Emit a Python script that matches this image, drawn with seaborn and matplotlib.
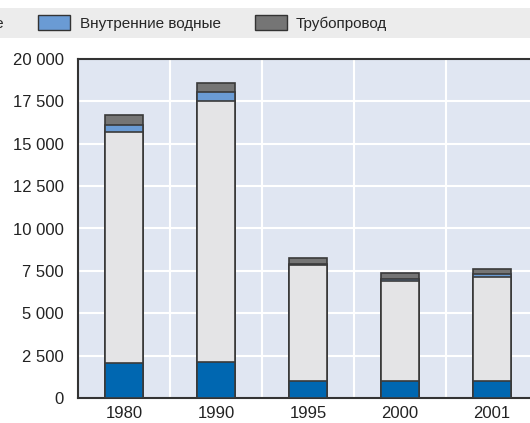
import numpy as np
import pandas as pd
import matplotlib
matplotlib.use("Agg")
import matplotlib.pyplot as plt
from matplotlib.patches import Patch, Rectangle
import seaborn as sns

years = ["1980", "1990", "1995", "2000", "2001"]
road = [2050, 2140, 1000, 1000, 1000]
rail = [13620, 15390, 6820, 5900, 6150]
inland = [430, 530, 70, 100, 150]
pipeline = [600, 530, 380, 350, 330]

series_names = ["Автомобильные", "Железнодорожные", "Внутренние водные", "Трубопровод"]
series_colors = ["#0067b1", "#e4e4e6", "#6a9bd4", "#757575"]
y_ticks = [0, 2500, 5000, 7500, 10000, 12500, 15000, 17500, 20000]
y_tick_labels = ["0", "2 500", "5 000", "7 500", "10 000", "12 500", "15 000", "17 500", "20 000"]

sns.set_theme(style="white")
plt.rcParams["font.family"] = ["Liberation Sans", "DejaVu Sans"]

W, H = 530, 423
fig = plt.figure(figsize=(W / 100, H / 100), dpi=100)
ax = fig.add_axes([78 / W, (H - 398) / H, 460 / W, 339 / H])
ax.set_facecolor("#e0e6f2")

layers = [road, rail, inland, pipeline]
cum = np.cumsum(np.array(layers, dtype=float), axis=0)
edge = "#3a3a3a"
for i in range(len(layers) - 1, -1, -1):
    df = pd.DataFrame({"year": years, "value": cum[i]})
    sns.barplot(data=df, x="year", y="value", color=series_colors[i], saturation=1,
                width=0.42, edgecolor=edge, linewidth=1.2, ax=ax, zorder=3)

ax.set_xlim(-0.5, 4.5)
ax.set_ylim(0, 20000)
ax.set_xlabel("")
ax.set_ylabel("")
ax.set_yticks(y_ticks)
ax.set_yticklabels(y_tick_labels)
ax.set_xticks(range(len(years)))
ax.set_xticklabels(years)
ax.set_xticks(np.arange(0.5, len(years) - 0.5, 1.0), minor=True)

ax.tick_params(axis="y", direction="in", length=6, width=1.2, color="#333333",
               labelsize=12, pad=10, labelcolor="#222222")
ax.tick_params(axis="x", which="major", length=0, labelsize=12, pad=6, labelcolor="#222222")
ax.tick_params(axis="x", which="minor", direction="in", length=5, width=1.2, color="#333333")

ax.grid(False)
for y in y_ticks[1:-1]:
    ax.axhline(y, color="white", lw=1.5, zorder=1)
for x in np.arange(0.5, len(years) - 0.5, 1.0):
    ax.axvline(x, color="white", lw=1.5, zorder=1)

for s in ["left", "bottom", "top"]:
    ax.spines[s].set_color("#333333")
    ax.spines[s].set_linewidth(1.5)
ax.spines["right"].set_visible(False)

# legend band
fig.patches.append(Rectangle((0, 1 - 38 / H), 1, 30 / H, transform=fig.transFigure,
                             facecolor="#ececec", edgecolor="none", zorder=0))
handles = [Patch(facecolor=c, edgecolor="#333333", linewidth=1.0) for c in series_colors]
fig.legend(handles, series_names, ncol=4, frameon=False, loc="center right",
           bbox_to_anchor=(395 / W, 1 - 23 / H), fontsize=11, borderpad=0,
           handlelength=2.1, handleheight=1.05, handletextpad=0.62, columnspacing=2.2)

fig.savefig("out.png", dpi=100)
